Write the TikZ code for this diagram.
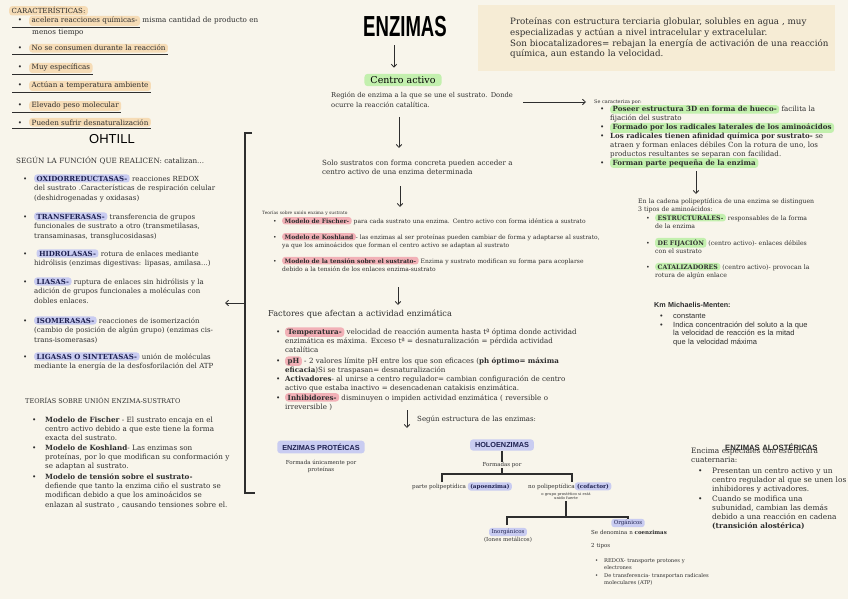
\documentclass[tikz,border=0pt]{standalone}
\usepackage{fontspec}
\setmainfont{DejaVu Serif}
\newfontfamily\sansfont{Liberation Sans}
\usepackage{xcolor}
\usepackage{graphicx}
\usetikzlibrary{arrows.meta}

\definecolor{paper}{HTML}{F8F5EB}
\definecolor{defbg}{HTML}{F6ECD5}
\definecolor{peach}{HTML}{F6DCB6}
\definecolor{lav}{HTML}{C9CCF1}
\definecolor{rosa}{HTML}{F2B1B7}
\definecolor{verde}{HTML}{C3F0AE}
\definecolor{ink}{HTML}{2E2E2E}
\definecolor{navy}{HTML}{1E2150}

% inline highlight and bullets
\newcommand{\pill}[2]{\tikz[baseline=(p.base)]\node[pillbox=#1](p){#2};}
\newcommand{\bu}[1][11pt]{\leavevmode\hbox to #1{\textbullet\hfil}}
\newcommand{\ind}[1][11pt]{\hspace*{#1}}
\newcommand{\chit}[1]{\underline{\hbox to 17pt{\hfil\textbullet\hspace{7pt}}\pill{peach}{#1}}}

\begin{document}
\begin{tikzpicture}[x=1pt, y=-1pt,
  lbl/.style={anchor=base west, inner sep=0pt, text width=340pt, align=left, text=ink},
  fs/.style 2 args={font=\fontsize{#1}{#2}\selectfont},
  pillbox/.style={fill=#1, rounded corners=3pt, inner xsep=2.5pt, inner ysep=1.4pt, text width={}, align=none, anchor=base},
  hd/.style={font=\sansfont\bfseries\fontsize{7.3}{8}\selectfont, text=navy, inner xsep=5pt, inner ysep=3pt},
  arr/.style={-{Straight Barb[length=3pt,width=5.5pt]}, line width=0.8pt, draw=ink},
  tree/.style={line width=1.1pt, draw=ink},
]
\fill[paper] (0,0) rectangle (848,599);
\useasboundingbox (0,0) rectangle (848,599);

% ── title and definition ──
\node[font=\sansfont\bfseries\fontsize{29}{30}\selectfont, text=black, inner sep=0pt] (title) at (405,27) {\scalebox{0.64}[1]{ENZIMAS}};
\node[fill=defbg, minimum width=357pt, minimum height=66pt, anchor=north west, inner sep=0pt] (defbox) at (478,5) {};
\node[lbl, fs={8.7}{10.6}] (deftxt) at (510,25) {Proteínas con estructura terciaria globular, solubles en agua , muy\\especializadas y actúan a nivel intracelular y extracelular.\\Son biocatalizadores= rebajan la energía de activación de una reacción\\química, aun estando la velocidad.};

% ── characteristics ──
\node[lbl, fs={7}{9}] (caract) at (9,14) {\pill{peach}{CARACTERÍSTICAS:}};
\node[lbl, fs={7.2}{9}] (c1) at (12,23) {\chit{acelera reacciones químicas-} misma cantidad de producto en\\\ind[20pt]menos tiempo};
\node[lbl, fs={7.2}{9}] (c2) at (12,51) {\chit{No se consumen durante la reacción}};
\node[lbl, fs={7.2}{9}] (c3) at (12,70) {\chit{Muy específicas}};
\node[lbl, fs={7.2}{9}] (c4) at (12,88) {\chit{Actúan a temperatura ambiente}};
\node[lbl, fs={7.2}{9}] (c5) at (12,108) {\chit{Elevado peso molecular}};
\node[lbl, fs={7.2}{9}] (c6) at (12,125) {\chit{Pueden sufrir desnaturalización}};
\node[font=\sansfont\fontsize{13}{14}\selectfont, text=black] (ohtill) at (112,139) {OHTILL};

% ── classes by function ──
\node[lbl, fs={7.2}{9}] (segfun) at (16,163) {SEGÚN LA FUNCIÓN QUE REALICEN: catalizan...};
\node[lbl, fs={7}{9.6}] (oxi) at (23,181) {\bu\pill{lav}{\textbf{\color{navy}OXIDORREDUCTASAS-}} reacciones REDOX\\\ind del sustrato .Características de respiración celular\\\ind(deshidrogenadas y oxidasas)};
\node[lbl, fs={7}{9.6}] (trans) at (23,219) {\bu\pill{lav}{\textbf{\color{navy}TRANSFERASAS-}} transferencia de grupos\\\ind funcionales de sustrato a otro (transmetilasas,\\\ind transaminasas, transglucosidasas)};
\node[lbl, fs={7}{9.6}] (hidro) at (23,256) {\bu\ \pill{lav}{\textbf{\color{navy}HIDROLASAS-}} rotura de enlaces mediante\\\ind hidrólisis (enzimas digestivas: lipasas, amilasa...)};
\node[lbl, fs={7}{9.6}] (lias) at (23,284) {\bu\pill{lav}{\textbf{\color{navy}LIASAS-}} ruptura de enlaces sin hidrólisis y la\\\ind adición de grupos funcionales a moléculas con\\\ind dobles enlaces.};
\node[lbl, fs={7}{9.6}] (isom) at (23,323) {\bu\pill{lav}{\textbf{\color{navy}ISOMERASAS-}} reacciones de isomerización\\\ind(cambio de posición de algún grupo) (enzimas cis-\\\ind trans-isomerasas)};
\node[lbl, fs={7}{9.6}] (ligas) at (23,359) {\bu\pill{lav}{\textbf{\color{navy}LIGASAS O SINTETASAS-}} unión de moléculas\\\ind mediante la energía de la desfosforilación del ATP};

% ── bracket ──
\draw[line width=1.3pt, ink] (252,133) -- (245,133) -- (245,493) -- (255,493);
\coordinate (brk) at (245,303);
\coordinate (clsR) at (225,303);
\draw[arr] (brk) -- (clsR);

% ── theories (left) ──
\node[lbl, fs={6.5}{9.4}] (teotit) at (25,403) {TEORÍAS SOBRE UNIÓN ENZIMA-SUSTRATO};
\node[lbl, fs={7.2}{9.4}] (teo1) at (32,422) {\bu[13pt]\textbf{Modelo de Fischer} - El sustrato encaja en el\\\ind[13pt]centro activo debido a que este tiene la forma\\\ind[13pt]exacta del sustrato.};
\node[lbl, fs={7.2}{9.4}] (teo2) at (32,450) {\bu[13pt]\textbf{Modelo de Koshland}- Las enzimas son\\\ind[13pt]proteínas, por lo que modifican su conformación y\\\ind[13pt]se adaptan al sustrato.};
\node[lbl, fs={7.2}{9.4}] (teo3) at (32,479) {\bu[13pt]\textbf{Modelo de tensión sobre el sustrato-}\\\ind[13pt]defiende que tanto la enzima ciño el sustrato se\\\ind[13pt]modifican debido a que los aminoácidos se\\\ind[13pt]enlazan al sustrato , causando tensiones sobre el.};

% ── centre column ──
\node[pillbox=verde, anchor=center, font=\fontsize{9.5}{11}\selectfont, text=black, inner xsep=6pt, inner ysep=2.5pt] (centro) at (403,80) {Centro activo};
\node[lbl, fs={6.75}{9.8}] (region) at (331,98) {Región de enzima a la que se une el sustrato. Donde\\ocurre la reacción catalítica.};
\node[lbl, fs={7.1}{9.6}] (solo) at (322,165) {Solo sustratos con forma concreta pueden acceder a\\centro activo de una enzima determinada};
\node[lbl, fs={4.4}{8}] (teocen) at (262,214) {Teorías sobre unión enzima y sustrato};
\node[lbl, fs={6}{8}] (fis) at (273,223) {\bu[9pt]\pill{rosa}{\textbf{Modelo de Fischer-}} para cada sustrato una enzima. Centro activo con forma idéntica a sustrato};
\node[lbl, fs={6}{8}] (kos) at (273,239) {\bu[9pt]\pill{rosa}{\textbf{Modelo de Koshland}}- las enzimas al ser proteínas pueden cambiar de forma y adaptarse al sustrato,\\\ind[9pt]ya que los aminoácidos que forman el centro activo se adaptan al sustrato};
\node[lbl, fs={6}{8}] (ten) at (273,263) {\bu[9pt]\pill{rosa}{\textbf{Modelo de la tensión sobre el sustrato-}} Enzima y sustrato modifican su forma para acoplarse\\\ind[9pt]debido a la tensión de los enlaces enzima-sustrato};
\node[lbl, fs={8.2}{9}] (factit) at (268,316) {Factores que afectan a actividad enzimática};
\node[lbl, fs={7.1}{9}] (temp) at (276,334) {\bu[9pt]\pill{rosa}{\textbf{Temperatura-}} velocidad de reacción aumenta hasta tª óptima donde actividad\\\ind[9pt]enzimática es máxima. Exceso tª = desnaturalización = pérdida actividad\\\ind[9pt]catalítica};
\node[lbl, fs={7.1}{9}] (ph) at (276,363) {\bu[9pt]\pill{rosa}{\textbf{pH}} - 2 valores límite pH entre los que son eficaces (\textbf{ph óptimo= máxima}\\\ind[9pt]\textbf{eficacia})Si se traspasan= desnaturalización};
\node[lbl, fs={7.1}{9}] (activ) at (276,381) {\bu[9pt]\textbf{Activadores}- al unirse a centro regulador= cambian configuración de centro\\\ind[9pt]activo que estaba inactivo = desencadenan catakisis enzimática.};
\node[lbl, fs={7.1}{9}] (inhib) at (276,400) {\bu[9pt]\pill{rosa}{\textbf{Inhibidores-}} disminuyen o impiden actividad enzimática ( reversible o\\\ind[9pt]irreversible )};
\node[lbl, fs={7}{9}] (segest) at (417,421) {Según estructura de las enzimas:};

\draw[arr] ([xshift=-11pt,yshift=-8pt]title.south) -- ([xshift=-9pt,yshift=6pt]centro.north);
\draw[arr] ([xshift=68pt,yshift=-19pt]region.base west) -- ([xshift=77pt,yshift=17pt]solo.base west);
\draw[arr] ([xshift=78pt,yshift=-21pt]solo.base west) -- ([xshift=138pt,yshift=7pt]teocen.base west);
\draw[arr] ([xshift=125pt,yshift=-24pt]ten.base west) -- ([xshift=125pt,yshift=-42pt]ten.base west);
\draw[arr] ([xshift=-10pt,yshift=11pt]segest.base west) -- ([xshift=-10pt,yshift=-7pt]segest.base west);

% ── enzyme structure ──
\node[pillbox=lav, hd, anchor=center] (prot) at (321,447) {ENZIMAS PROTÉICAS};
\node[fs={5.5}{7}, align=center, text=ink] (protdesc) at (321,466) {Formada únicamente por\\proteínas};
\node[pillbox=lav, hd, anchor=center] (holo) at (502,445) {HOLOENZIMAS};
\node[fs={5.5}{7}, text=ink, inner sep=0.5pt] (formadas) at (502,465) {Formadas por};
\node[fs={5.6}{7}, text=ink, anchor=base west, inner sep=0pt] (apo) at (412,488) {parte polipeptídica \pill{lav}{\textbf{\color{navy}(apoenzima)}}};
\node[fs={5.7}{7}, text=ink, anchor=base west, inner sep=0pt] (cof) at (528,488) {no polipeptídica\pill{lav}{\textbf{\color{navy}(cofactor)}}};
\node[fs={3.8}{4.6}, align=center, text=ink, inner sep=1pt] (grupo) at (566,496) {o grupo prostético si está\\unido fuerte};
\node[pillbox=lav, anchor=center, fs={5.5}{7}, text=navy] (inorg) at (508,532) {Inorgánicos};
\node[fs={5.5}{7}, text=ink, inner sep=0pt] (iones) at (508,540) {(Iones metálicos)};
\node[pillbox=lav, anchor=center, fs={5.5}{7}, text=navy] (org) at (628,523) {Orgánicos};
\node[lbl, fs={5.5}{7}] (coenz) at (591,534) {Se denomina n \textbf{coenzimas}};
\node[lbl, fs={5.5}{7}] (tipos) at (591,547) {2 tipos};
\node[lbl, fs={5.2}{7.4}] (redox) at (595,562) {\bu[9pt]REDOX- transporte protones y\\\ind[9pt]electrones};
\node[lbl, fs={5.2}{7.4}] (transf) at (595,577) {\bu[9pt]De transferencia- transportan radicales\\\ind[9pt]moleculares (ATP)};

\coordinate (jn1) at (502,474);
\coordinate (apoL) at (442,482);
\coordinate (cofR) at (572,482);
\coordinate (jn2) at (566,517);
\coordinate (inL) at (507,525);
\draw[tree] (holo.south) -- (formadas.north);
\draw[tree] (formadas.south) -- (jn1);
\draw[tree] (apoL) |- (jn1) -| (cofR);
\draw[tree] (grupo.south) -- (jn2);
\draw[tree] (inL) |- (jn2) -| (org.north);

% ── active site (right) ──
\node[lbl, fs={4.9}{8}] (secar) at (594,103) {Se caracteriza por:};
\draw[arr] ([xshift=192pt,yshift=-4pt]region.base west) -- ([xshift=-8pt,yshift=1pt]secar.base west);
\node[lbl, fs={7.1}{8.8}] (s1) at (600,112) {\bu[10pt]\pill{verde}{\textbf{Poseer estructura 3D en forma de hueco-}} facilita la\\\ind[10pt]fijación del sustrato};
\node[lbl, fs={7.1}{8.8}] (s2) at (600,130) {\bu[10pt]\pill{verde}{\textbf{Formado por los radicales laterales de los aminoácidos}}};
\node[lbl, fs={7.1}{8.6}] (s3) at (600,139) {\bu[10pt]\textbf{Los radicales tienen afinidad química por sustrato-} se\\\ind[10pt]atraen y forman enlaces débiles Con la rotura de uno, los\\\ind[10pt]productos resultantes se separan con facilidad.};
\node[lbl, fs={7.1}{8.8}] (s4) at (600,165) {\bu[10pt]\pill{verde}{\textbf{Forman parte pequeña de la enzima}}};
\node[lbl, fs={6.2}{8}] (cadena) at (638,203) {En la cadena polipeptídica de una enzima se distinguen\\3 tipos de aminoácidos:};
\draw[arr] ([xshift=96pt,yshift=-6pt]s4.base west) -- ([xshift=58pt,yshift=9pt]cadena.base west);
\node[lbl, fs={6.2}{8}] (aa1) at (646,220) {\bu[9pt]\pill{verde}{\textbf{ESTRUCTURALES-}} responsables de la forma\\\ind[9pt]de la enzima};
\node[lbl, fs={6.2}{8}] (aa2) at (646,245) {\bu[9pt]\pill{verde}{\textbf{DE FIJACIÓN}} (centro activo)- enlaces débiles\\\ind[9pt]con el sustrato};
\node[lbl, fs={6.2}{8}] (aa3) at (646,269) {\bu[9pt]\pill{verde}{\textbf{CATALIZADORES}} (centro activo)- provocan la\\\ind[9pt]rotura de algún enlace};

% ── Km ──
\node[lbl, font=\sansfont\bfseries\fontsize{7.2}{8}\selectfont] (km) at (654,307) {Km Michaelis-Menten:};
\node[lbl, font=\sansfont\fontsize{7.5}{8.7}\selectfont] (km1) at (660,318) {\bu[13pt]constante};
\node[lbl, font=\sansfont\fontsize{7.5}{8.7}\selectfont] (km2) at (660,327) {\bu[13pt]Indica concentración del soluto a la que\\\ind[13pt]la velocidad de reacción es la mitad\\\ind[13pt]que la velocidad máxima};

% ── allosteric enzymes ──
\node[lbl, font=\sansfont\bfseries\fontsize{7.7}{8}\selectfont] (alotit) at (725,450) {ENZIMAS ALOSTÉRICAS};
\node[lbl, fs={7.4}{9.3}] (alo) at (691,453) {Encima especiales con estructura\\cuaternaria:};
\node[lbl, fs={7.4}{9.3}] (alo1) at (698,473) {\bu[14pt]Presentan un centro activo y un\\\ind[14pt]centro regulador al que se unen los\\\ind[14pt]inhibidores y activadores.};
\node[lbl, fs={7.4}{9.3}] (alo2) at (698,501) {\bu[14pt]Cuando se modifica una\\\ind[14pt]subunidad, cambian las demás\\\ind[14pt]debido a una reacción en cadena\\\ind[14pt]\textbf{(transición alostérica)}};
\end{tikzpicture}
\end{document}
